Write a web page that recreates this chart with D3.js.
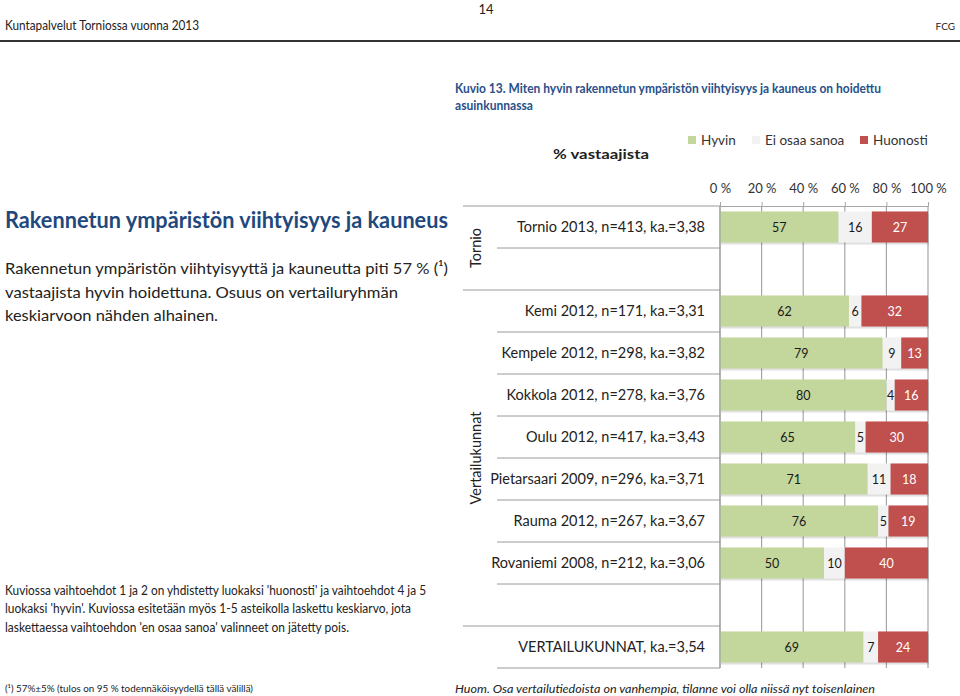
<!DOCTYPE html>
<html><head><meta charset="utf-8">
<script src="https://cdn.jsdelivr.net/npm/d3@7"></script>
<style>body{margin:0;background:#fff}svg{display:block}text{font-family:Lato,"Open Sans",sans-serif}</style>
</head><body><svg id="c" width="960" height="696"></svg>
<script>
const categories = ["Tornio 2013, n=413, ka.=3,38", "", "Kemi 2012, n=171, ka.=3,31", "Kempele 2012, n=298, ka.=3,82",
  "Kokkola 2012, n=278, ka.=3,76", "Oulu 2012, n=417, ka.=3,43", "Pietarsaari 2009, n=296, ka.=3,71",
  "Rauma 2012, n=267, ka.=3,67", "Rovaniemi 2008, n=212, ka.=3,06", "", "VERTAILUKUNNAT, ka.=3,54"];
const hyvin     = [57, null, 62, 79, 80, 65, 71, 76, 50, null, 69];
const eiOsaa    = [16, null, 6, 9, 4, 5, 11, 5, 10, null, 7];
const huonosti  = [27, null, 32, 13, 16, 30, 18, 19, 40, null, 24];
const seriesNames = ["Hyvin", "Ei osaa sanoa", "Huonosti"];
const seriesColors = ["#c3d69b", "#f2f2f2", "#c0504d"];
const labelColors = ["#1a1a1a", "#1a1a1a", "#ffffff"];
const tickValues = [0, 0.2, 0.4, 0.6, 0.8, 1.0];
const groups = [{name: "Tornio", from: 0, to: 2}, {name: "Vertailukunnat", from: 2, to: 10}];
const groupBreaks = [0, 2, 10];

const svg = d3.select("#c");
const blue = "#1f497d";

function txt(x, y, s, opt = {}) {
  const t = svg.append("text").attr("x", x).attr("y", y).text(s)
    .attr("font-size", opt.size || 13).attr("fill", opt.fill || "#222")
    .attr("font-weight", opt.weight || "normal").attr("text-anchor", opt.anchor || "start");
  if (opt.family) t.attr("font-family", opt.family);
  if (opt.style) t.attr("font-style", opt.style);
  if (opt.len) t.attr("textLength", opt.len).attr("lengthAdjust", "spacingAndGlyphs");
  return t;
}

// page header
txt(486, 14, "14", {size: 13, anchor: "middle", family: "'Liberation Sans Narrow','Liberation Sans',sans-serif"});
txt(5, 30, "Kuntapalvelut Torniossa vuonna 2013", {size: 13, len: 194, family: "'Liberation Sans Narrow','Liberation Sans',sans-serif"});
txt(955, 30, "FCG", {size: 10, anchor: "end", family: "'Liberation Sans Narrow','Liberation Sans',sans-serif"});
svg.append("line").attr("x1", 0).attr("x2", 960).attr("y1", 41).attr("y2", 41).attr("stroke", "#333").attr("stroke-width", 2);

// figure title
txt(455, 93, "Kuvio 13. Miten hyvin rakennetun ympäristön viihtyisyys ja kauneus on hoidettu", {size: 13, weight: "bold", fill: "#28508a", len: 426, family: "'Open Sans',sans-serif"});
txt(455, 110, "asuinkunnassa", {size: 13, weight: "bold", fill: "#28508a", len: 78, family: "'Open Sans',sans-serif"});
txt(553, 159, "% vastaajista", {size: 13, weight: "bold", fill: "#222", len: 96, family: "'Open Sans',sans-serif"});

// left texts
txt(5, 228, "Rakennetun ympäristön viihtyisyys ja kauneus", {size: 22, weight: "bold", fill: blue, len: 443, family: "'Open Sans',sans-serif"});
txt(5, 274, "Rakennetun ympäristön viihtyisyyttä ja kauneutta piti 57 % (¹)", {size: 16, len: 443});
txt(5, 298, "vastaajista hyvin hoidettuna. Osuus on vertailuryhmän", {size: 16, len: 393});
txt(5, 321, "keskiarvoon nähden alhainen.", {size: 16, len: 213});
txt(5, 595, "Kuviossa vaihtoehdot 1 ja 2 on yhdistetty luokaksi 'huonosti' ja vaihtoehdot 4 ja 5", {size: 12.5, len: 421});
txt(5, 613, "luokaksi 'hyvin'. Kuviossa esitetään myös 1-5 asteikolla laskettu keskiarvo, jota", {size: 12.5, len: 406});
txt(5, 632, "laskettaessa vaihtoehdon 'en osaa sanoa' valinneet on jätetty pois.", {size: 12.5, len: 344});
txt(5, 692, "(¹) 57%±5% (tulos on 95 % todennäköisyydellä tällä välillä)", {size: 10, len: 248});
txt(455, 693, "Huom. Osa vertailutiedoista on vanhempia, tilanne voi olla niissä nyt toisenlainen", {size: 12, style: "italic", len: 420});

// legend
const legX = [688, 752, 860];
seriesNames.forEach((n, i) => {
  svg.append("rect").attr("x", legX[i]).attr("y", 136).attr("width", 8).attr("height", 8).attr("fill", seriesColors[i]);
  txt(legX[i] + 13, 145, n, {size: 13.5, fill: "#333"});
});

// scales
const x = d3.scaleLinear().domain([0, 1]).range([720, 928]);
const idx = d3.range(categories.length);
const y = d3.scaleBand().domain(idx).range([206, 668]).paddingInner(0.26).paddingOuter(0.13);
const step = y.step();

// gridlines
svg.append("g").selectAll("line").data(tickValues).join("line")
  .attr("x1", d => x(d)).attr("x2", d => x(d)).attr("y1", 206).attr("y2", 668)
  .attr("stroke", "#a6a6a6").attr("stroke-width", 1.2);

// category separators
svg.append("g").selectAll("line").data(d3.range(categories.length + 1)).join("line")
  .attr("x1", i => groupBreaks.includes(i) ? 463 : 497).attr("x2", 720)
  .attr("y1", i => 206 + i * step).attr("y2", i => 206 + i * step)
  .attr("stroke", "#9a9a9a").attr("stroke-width", 1);

// top axis
const ax = svg.append("g").attr("transform", "translate(0,206)")
  .call(d3.axisTop(x).tickValues(tickValues).tickFormat(d => Math.round(d * 100) + " %").tickSizeInner(4).tickSizeOuter(0).tickPadding(9));
ax.select(".domain").attr("stroke", "#a6a6a6");
ax.selectAll(".tick line").attr("stroke", "#a6a6a6");
ax.selectAll("text").attr("font-size", 13).attr("fill", "#333").attr("font-family", "Lato,sans-serif");

// bars
const rows = idx.filter(i => hyvin[i] != null).map(i => {
  const vals = [hyvin[i], eiOsaa[i], huonosti[i]];
  const tot = d3.sum(vals);
  let c = 0;
  return {i, segs: vals.map((v, k) => { const s = {k, v, x0: c / tot, x1: (c + v) / tot}; c += v; return s; })};
});
const bg = svg.append("g");
rows.forEach(r => {
  bg.append("rect").attr("x", x(0) + 1).attr("y", y(r.i) + 2).attr("width", x(1) - x(0)).attr("height", y.bandwidth())
    .attr("fill", "#000").attr("opacity", 0.12);
  r.segs.forEach(s => {
    bg.append("rect").attr("x", x(s.x0)).attr("y", y(r.i)).attr("width", x(s.x1) - x(s.x0)).attr("height", y.bandwidth())
      .attr("fill", seriesColors[s.k]);
    bg.append("text").attr("x", (x(s.x0) + x(s.x1)) / 2).attr("y", y(r.i) + y.bandwidth() / 2 + 4.5)
      .attr("text-anchor", "middle").attr("font-size", 12.5).attr("fill", labelColors[s.k])
      .attr("font-family", "'Open Sans',sans-serif").text(s.v);
  });
});

// category axis
const ay = svg.append("g").attr("transform", "translate(720,0)")
  .call(d3.axisLeft(y).tickFormat(i => categories[i]).tickSize(0).tickPadding(15));
ay.select(".domain").attr("stroke", "#9a9a9a").attr("d", "M0,206V668");
ay.selectAll("text").attr("font-size", 14.5).attr("fill", "#222").attr("font-family", "Lato,sans-serif");

// group labels
groups.forEach(g => {
  const cy = 206 + (g.from + g.to) / 2 * step;
  svg.append("text").attr("transform", `translate(481,${cy}) rotate(-90)`).attr("text-anchor", "middle")
    .attr("font-size", 14.5).attr("fill", "#222").text(g.name);
});
</script></body></html>
